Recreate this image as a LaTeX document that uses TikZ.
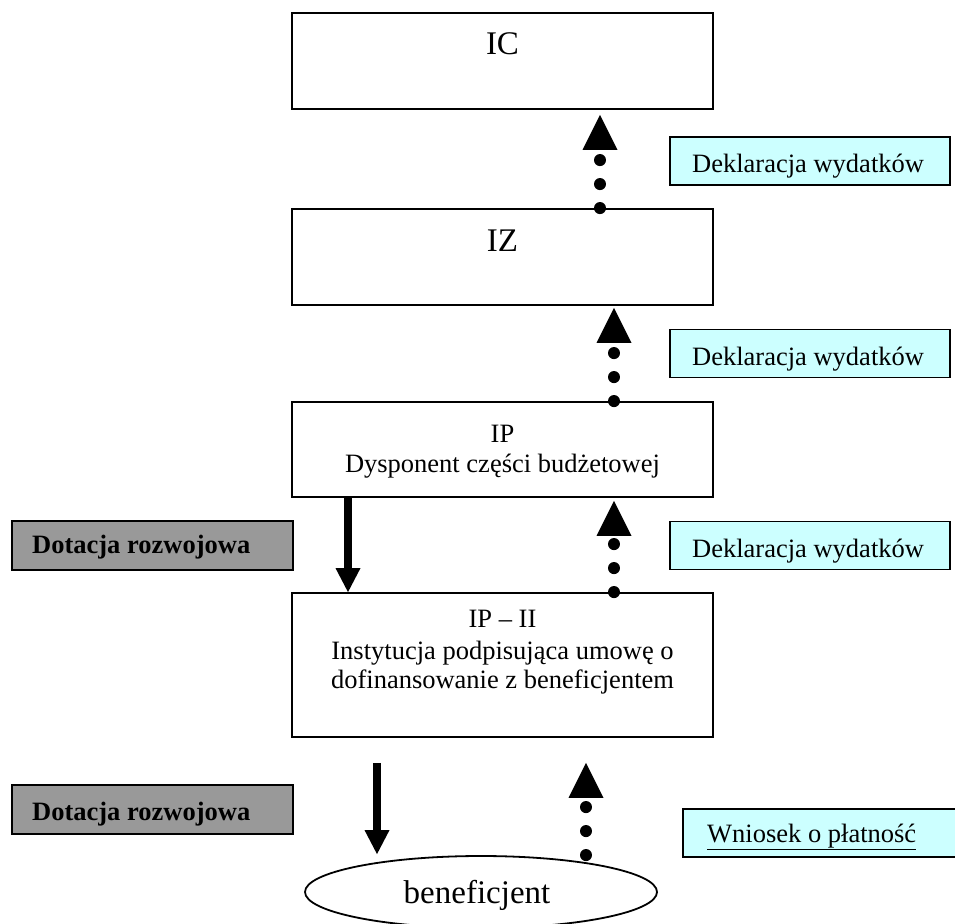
\documentclass[tikz,border=0pt]{standalone}
\usepackage{fontspec}
\setmainfont{Liberation Serif}
\usetikzlibrary{arrows.meta,shapes.geometric}
\definecolor{declcyan}{HTML}{CCFFFF}
\definecolor{dotgray}{HTML}{999999}
\begin{document}
\begin{tikzpicture}[x=1pt,y=-1pt,
  mainbox/.style={draw, line width=1.8pt, minimum width=421pt, inner sep=0pt},
  txt/.style={font=\fontsize{26.5}{30}\selectfont, inner sep=0pt, anchor=base},
  bigtxt/.style={font=\fontsize{33}{38}\selectfont, inner sep=0pt, anchor=base},
  declbox/.style={draw, line width=1.6pt, fill=declcyan, minimum width=280pt, minimum height=48pt, inner sep=0pt},
  grantbox/.style={draw, line width=1.6pt, fill=dotgray, minimum width=281pt, minimum height=49pt, inner sep=0pt},
  lefttxt/.style={font=\fontsize{26.5}{30}\selectfont, inner sep=0pt, anchor=base west},
  dotconn/.style={line width=12pt, line cap=round, dash pattern=on 0.1pt off 23.9pt,
     -{Triangle[width=35pt,length=35pt,line width=0pt]}},
  solidconn/.style={line width=7.5pt, -{Triangle[width=25pt,length=24pt,line width=0pt]}}
]
\useasboundingbox (0,0) rectangle (955,923);
\clip (0,0) rectangle (955,923);

% main boxes
\node[mainbox, minimum height=96pt] (IC) at (502.5,61) {};
\node[bigtxt] (ICt) at (502.5,55) {IC};

\node[mainbox, minimum height=96pt] (IZ) at (502.5,257) {};
\node[bigtxt] (IZt) at (502.5,251) {IZ};

\node[mainbox, minimum height=95pt] (IP) at (502.5,449.5) {};
\node[txt] (IPt1) at (502.5,442) {IP};
\node[txt] (IPt2) at (502.5,472) {Dysponent części budżetowej};

\node[mainbox, minimum height=144pt] (IPII) at (502.5,665) {};
\node[txt] (IPIIt1) at (502.5,627) {IP – II};
\node[txt] (IPIIt2) at (502.5,659) {Instytucja podpisująca umowę o};
\node[txt] (IPIIt3) at (502.5,688) {dofinansowanie z beneficjentem};

% beneficjent
\node[draw, ellipse, line width=1.8pt, minimum width=352pt, minimum height=72pt, inner sep=0pt] (ben) at (481,892) {};
\node[bigtxt] (bent) at (477,903) {beneficjent};

% side labels
\node[declbox] (d1) at (810,161) {};
\node[lefttxt] (d1t) at (692,172) {Deklaracja wydatków};
\node[declbox] (d2) at (810,353.5) {};
\node[lefttxt] (d2t) at (692,365) {Deklaracja wydatków};
\node[declbox] (d3) at (810,545.5) {};
\node[lefttxt] (d3t) at (692,557) {Deklaracja wydatków};
\node[declbox, minimum width=282pt] (w) at (824,833) {};
\node[lefttxt] (wt) at (707,842) {\underline{Wniosek o płatność}};

\node[grantbox] (g1) at (152.5,545.5) {};
\node[lefttxt, font=\fontsize{26.5}{30}\selectfont\bfseries] (g1t) at (32,553) {Dotacja rozwojowa};
\node[grantbox] (g2) at (152.5,809.5) {};
\node[lefttxt, font=\fontsize{26.5}{30}\selectfont\bfseries] (g2t) at (32,820) {Dotacja rozwojowa};

% connectors
\coordinate (xa) at (600,0);
\coordinate (xb) at (614,0);
\coordinate (xc) at (586,0);
\coordinate (xs) at (348,0);
\coordinate (xt) at (377,0);

\draw[dotconn, shorten >=5pt] (IZ.north -| xa) -- (IC.south -| xa);
\draw[dotconn, shorten >=2pt] (IP.north -| xb) -- (IZ.south -| xb);
\draw[dotconn, shorten >=3pt] (IPII.north -| xb) -- (IP.south -| xb);
\draw[dotconn, shorten >=25pt] (ben.north -| xc) -- (IPII.south -| xc);

\draw[solidconn] (IP.south -| xs) -- (IPII.north -| xs);
\draw[solidconn, shorten <=25pt, shorten >=1pt] (IPII.south -| xt) -- (ben.north -| xt);
\end{tikzpicture}
\end{document}
